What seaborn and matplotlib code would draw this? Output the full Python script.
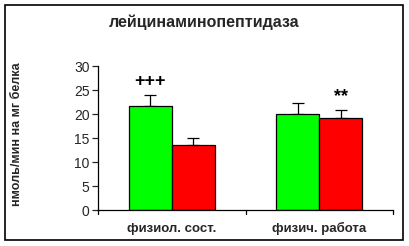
import matplotlib
matplotlib.use("Agg")
import matplotlib.pyplot as plt
import seaborn as sns
import pandas as pd
from matplotlib.patches import Rectangle

categories = ["физиол. сост.", "физич. работа"]
series = ["A", "B"]
values_a = [21.6, 20.1]
values_b = [13.5, 19.1]
err_a = [2.4, 2.1]
err_b = [1.4, 1.7]
marks_a = ["+++", ""]
marks_b = ["", "**"]
yticks = [0, 5, 10, 15, 20, 25, 30]
title = "лейцинаминопептидаза"
ylabel = "нмоль/мин на мг белка"

sns.set_style("white")
plt.rcParams["font.family"] = ["Liberation Sans", "DejaVu Sans"]

df = pd.DataFrame({
    "cat": categories * 2,
    "ser": [series[0]] * 2 + [series[1]] * 2,
    "val": values_a + values_b,
})
errs = err_a + err_b
marks = marks_a + marks_b

fig = plt.figure(figsize=(4.09, 2.46), dpi=100)
ax = fig.add_axes([98 / 409, 1 - 210 / 246, 295 / 409, 144 / 246])
sns.barplot(data=df, x="cat", y="val", hue="ser", order=categories,
            hue_order=series, palette=["#00FF00", "#FF0000"], saturation=1,
            width=0.58, gap=0, errorbar=None, edgecolor="black",
            linewidth=0.9, legend=False, ax=ax, zorder=2)

patches = sorted(ax.patches, key=lambda p: p.get_x())
for i, p in enumerate(patches):
    idx = [0, 2, 1, 3][i]
    cx = p.get_x() + p.get_width() / 2
    h = p.get_height()
    e = errs[idx]
    ax.errorbar(cx, h, yerr=[[0], [e]], fmt="none", ecolor="black",
                elinewidth=0.9, capsize=4, capthick=0.9, zorder=1)
    if marks[idx]:
        ax.text(cx, h + e + 1.0, marks[idx], ha="center", va="bottom",
                fontsize=13, fontweight="bold", color="black")

ax.set_ylim(0, 30)
ax.set_xlim(-0.5, 1.5)
ax.set_yticks(yticks)
ax.set_yticklabels([str(t) for t in yticks], fontsize=10)
ax.set_xticks([0, 1])
ax.set_xticklabels(categories, fontsize=9.5, fontweight="bold")
for lbl in ax.get_xticklabels():
    lbl.set_verticalalignment("baseline")
ax.tick_params(axis="x", length=0, pad=16)
ax.tick_params(axis="y", direction="out", length=4, width=0.9, left=True, pad=2)
for x in [-0.5, 0.5, 1.5]:
    ax.plot([x, x], [0, -0.9], color="black", lw=0.9, clip_on=False)
ax.set_xlabel("")
ax.set_ylabel("")
for s in ["top", "right"]:
    ax.spines[s].set_visible(False)
for s in ["left", "bottom"]:
    ax.spines[s].set_color("black")
    ax.spines[s].set_linewidth(0.9)

fig.text(204 / 409, 1 - 22 / 246, title, ha="center", va="center",
         fontsize=11.5, fontweight="bold")
fig.text(17 / 409, 1 - 134 / 246, ylabel, ha="center", va="center",
         rotation=90, fontsize=9, fontweight="bold")
fig.patches.append(Rectangle((5 / 409, 1 - 240 / 246), 398 / 409, 235 / 246,
                             transform=fig.transFigure, fill=False,
                             edgecolor="black", linewidth=1.2))
fig.savefig("out.png", dpi=100)
